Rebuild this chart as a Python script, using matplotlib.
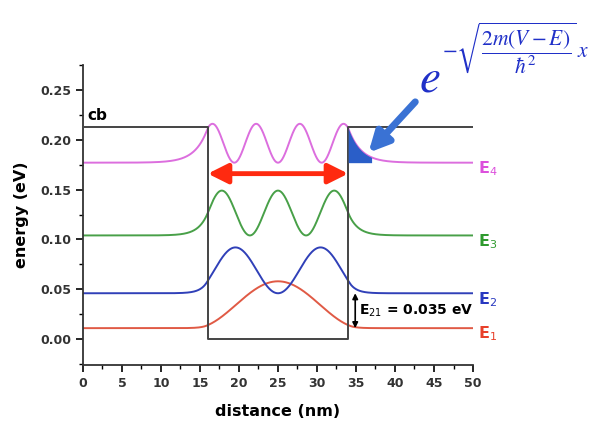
import numpy as np
import matplotlib
matplotlib.use("Agg")
import matplotlib.pyplot as plt
from matplotlib.ticker import MultipleLocator

# quantum well outline (nm, eV)
well_left = 16.0
well_right = 34.0
x_min, x_max = 0.0, 50.0
cb_level = 0.213

# bound states
level_names = ["E$_1$", "E$_2$", "E$_3$", "E$_4$"]
level_energy = [0.011, 0.046, 0.104, 0.177]
level_amp = [0.047, 0.046, 0.045, 0.039]       # peak height of |psi|^2 above the level
level_k = [0.146, 0.288, 0.436, 0.561]          # wave number inside the well (1/nm)
level_decay = [0.8, 0.9, 1.2, 1.6]              # decay length outside (nm)
level_even = [True, False, True, False]
curve_colors = ["#e05a45", "#3040b8", "#48a048", "#dc6ede"]
label_colors = ["#e8402a", "#2838c0", "#2e9a2e", "#dc50dc"]

e21_text = "E$_{21}$ = 0.035 eV"

fig = plt.figure(figsize=(5.94, 4.22), dpi=100)
ax = fig.add_axes([0.1397, 0.135, 0.6566, 0.711])

center = 0.5 * (well_left + well_right)
half = 0.5 * (well_right - well_left)
x = np.linspace(x_min, x_max, 2001)

curves = []
for E, A, k, d, even in zip(level_energy, level_amp, level_k, level_decay, level_even):
    u = x - center
    shape = np.cos(k * u) ** 2 if even else np.sin(k * u) ** 2
    edge = np.cos(k * half) ** 2 if even else np.sin(k * half) ** 2
    outside = np.abs(u) > half
    shape[outside] = edge * np.exp(-(np.abs(u[outside]) - half) / d)
    curves.append(E + A * shape)

# well profile
ax.plot([x_min, well_left, well_left, well_right, well_right, x_max],
        [cb_level, cb_level, 0, 0, cb_level, cb_level],
        color="#444444", lw=1.4, zorder=3)

for y, c in zip(curves, curve_colors):
    ax.plot(x, y, color=c, lw=1.4, zorder=2)

# shaded evanescent tail of E4
tail = (x >= well_right) & (x <= 37.0)
ax.fill_between(x[tail], level_energy[3], curves[3][tail], color="#2a5ec8", lw=0, zorder=4)

# red double arrow across the well
ax.annotate("", xy=(well_right, 0.166), xytext=(well_left, 0.166),
            arrowprops=dict(arrowstyle="<|-|>", color="#ff2a10", lw=3.5,
                            mutation_scale=30, shrinkA=0, shrinkB=0), zorder=5)

# blue arrow pointing at the tail
ax.annotate("", xy=(36.6, 0.187), xytext=(42.6, 0.238),
            arrowprops=dict(arrowstyle="-|>", color="#3a72d4", lw=5,
                            mutation_scale=30, shrinkA=0, shrinkB=0),
            annotation_clip=False, zorder=5)

# E21 arrow
ax.annotate("", xy=(34.9, level_energy[1]), xytext=(34.9, level_energy[0]),
            arrowprops=dict(arrowstyle="<|-|>", color="black", lw=1.2,
                            mutation_scale=8, shrinkA=0, shrinkB=0), zorder=5)
ax.text(35.4, 0.028, e21_text, fontsize=10, fontweight="bold", va="center", ha="left")

for name, E, c in zip(level_names, level_energy, label_colors):
    ax.text(50.6, E - 0.006, name, color=c, fontsize=11.5, fontweight="bold",
            va="center", ha="left")

ax.text(0.6, 0.224, "cb", fontsize=11, fontweight="bold", va="center", ha="left")

ax.set_xlim(x_min, x_max)
ax.set_ylim(-0.026, 0.275)
ax.xaxis.set_major_locator(MultipleLocator(5))
ax.xaxis.set_minor_locator(MultipleLocator(2.5))
ax.yaxis.set_minor_locator(MultipleLocator(0.025))
ax.set_yticks([0, 0.05, 0.10, 0.15, 0.20, 0.25])
ax.set_yticklabels(["0.00", "0.05", "0.10", "0.15", "0.20", "0.25"])
ax.spines["top"].set_visible(False)
ax.spines["right"].set_visible(False)
for s in ("left", "bottom"):
    ax.spines[s].set_linewidth(1.3)
    ax.spines[s].set_color("#333333")
ax.tick_params(which="major", length=5, width=1.2, direction="out", labelsize=9)
ax.tick_params(which="minor", length=3, width=1.0, direction="out")
for lab in ax.get_xticklabels() + ax.get_yticklabels():
    lab.set_fontweight("bold")
    lab.set_color("#333333")

ax.set_xlabel("distance (nm)", fontsize=11.5, fontweight="bold", labelpad=10)
ax.set_ylabel("energy (eV)", fontsize=11.5, fontweight="bold", labelpad=8)

# tunnelling formula: big e with a display-style exponent
fig.text(0.705, 0.76, r"$e$", fontsize=34, color="#2030c8", ha="left", va="bottom",
         math_fontfamily="stix")
fig.text(0.744, 0.82, r"$-\sqrt{\dfrac{2m(V-E)}{\hbar^2}}\,x$", fontsize=15.5,
         color="#2030c8", ha="left", va="bottom", math_fontfamily="stix")

plt.savefig("out.png", dpi=100)
plt.close()
